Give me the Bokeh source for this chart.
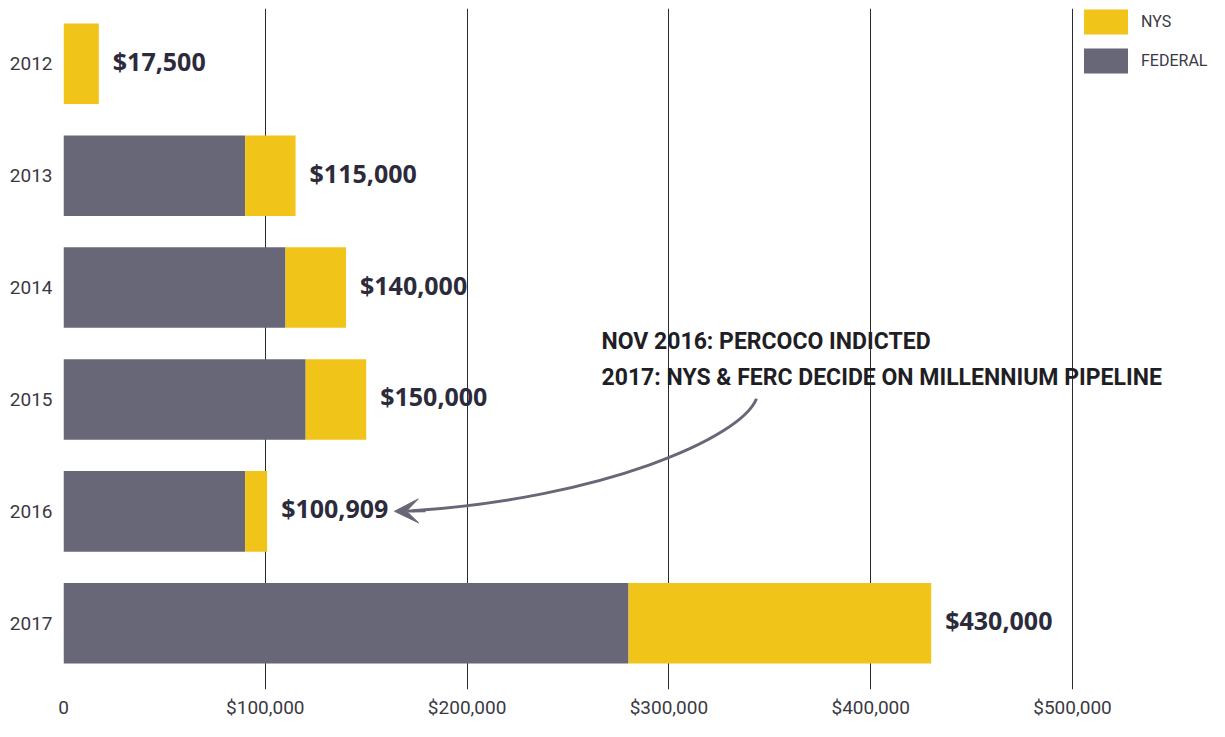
from bokeh.plotting import figure
from bokeh.models import (ColumnDataSource, Range1d, FixedTicker, Legend, LegendItem,
                          Label, Arrow, VeeHead)
from bokeh.core.properties import value
from bokeh.embed import file_html
from bokeh.resources import INLINE

# ---- data ----
years = ["2012", "2013", "2014", "2015", "2016", "2017"]
federal = [0, 90000, 110000, 120000, 90000, 280000]
nys = [17500, 25000, 30000, 30000, 10909, 150000]
x_ticks = [0, 100000, 200000, 300000, 400000, 500000]
x_tick_labels = ["0", "$100,000", "$200,000", "$300,000", "$400,000", "$500,000"]
note_lines = ["NOV 2016: PERCOCO INDICTED",
              "2017: NYS & FERC DECIDE ON MILLENNIUM PIPELINE"]

GRAY = "#686777"
YELLOW = "#F1C419"
TEXT = "#2b2b3b"

pos = list(range(len(years)))
totals = [f + n for f, n in zip(federal, nys)]
src = ColumnDataSource(dict(pos=pos, year=years, federal=federal, nys=nys,
                            total=totals,
                            label=["$" + format(t, ",") for t in totals]))

PX_PER_K = 2.018          # horizontal scale, px per $1,000
ROW = 112.4               # px per row
FRAME_L, FRAME_T, FRAME_B = 63, 8, 692
W, H = 1209, 721

x_end = (W - FRAME_L) / PX_PER_K * 1000
y_top = -(63.5 - FRAME_T) / ROW
y_bot = 5 + (FRAME_B - 625.5) / ROW

p = figure(width=W, height=H, output_backend="svg", toolbar_location=None,
           x_range=Range1d(0, x_end), y_range=Range1d(y_bot, y_top),
           min_border_left=FRAME_L, min_border_right=0, min_border_top=FRAME_T,
           min_border_bottom=H - FRAME_B)
p.outline_line_color = None
p.background_fill_color = "white"
p.border_fill_color = "white"

rs = p.hbar_stack(["federal", "nys"], y="pos", height=0.72, color=[GRAY, YELLOW],
                  line_color=None, source=src)

p.text(x="total", y="pos", text="label", source=src, x_offset=14, y_offset=-3,
       text_baseline="middle", text_align="left",
       text_font=value("Open Sans"), text_font_style="bold",
       text_font_size="25px", text_color=TEXT)

# axes
p.xaxis.ticker = FixedTicker(ticks=x_ticks)
p.xaxis.major_label_overrides = {t: l for t, l in zip(x_ticks, x_tick_labels)}
p.yaxis.ticker = FixedTicker(ticks=pos)
p.yaxis.major_label_overrides = {i: y for i, y in zip(pos, years)}
for ax in (p.xaxis, p.yaxis):
    ax.axis_line_color = None
    ax.major_tick_line_color = None
    ax.minor_tick_line_color = None
    ax.major_tick_out = 0
    ax.major_tick_in = 0
    ax.major_label_text_font = "Roboto"
    ax.major_label_text_font_size = "19px"
    ax.major_label_text_color = "#3a3a44"
p.xaxis.major_label_standoff = 6
p.yaxis.major_label_standoff = 11

p.xgrid.ticker = FixedTicker(ticks=x_ticks)
p.xgrid.grid_line_color = "#2a2a33"
p.xgrid.grid_line_width = 1
p.ygrid.grid_line_color = None

# legend (bar legend glyphs are drawn at 80% of the glyph box)
legend = Legend(items=[LegendItem(label="NYS", renderers=[rs[1]]),
                       LegendItem(label="FEDERAL", renderers=[rs[0]])],
                location=(1078 - FRAME_L, FRAME_B - 79), orientation="vertical",
                glyph_width=55, glyph_height=31, spacing=8, padding=0, margin=0,
                label_standoff=8, label_text_font="Roboto",
                label_text_font_size="16px", label_text_color="#3a3a44",
                border_line_color=None, background_fill_alpha=0)
p.add_layout(legend, "center")

# annotation text
def dx(sx):
    return (sx - FRAME_L) / PX_PER_K * 1000

def dy(sy):
    return (sy - 63.5) / ROW

for i, line in enumerate(note_lines):
    p.add_layout(Label(x=dx(601), y=dy(342 + 37 * i), text=line,
                       text_font="Roboto", text_font_style="bold",
                       text_font_size="23px", text_color="#1e1e24",
                       text_baseline="middle", text_align="left"))

# curved arrow pointing at the 2016 bar label
p.bezier(x0=[dx(756)], y0=[dy(400)], x1=[dx(412)], y1=[dy(512.5)],
         cx0=[dx(740)], cy0=[dy(440)], cx1=[dx(600)], cy1=[dy(500)],
         line_color=GRAY, line_width=3)
p.add_layout(Arrow(end=VeeHead(size=24, fill_color=GRAY, line_color=GRAY),
                   x_start=dx(425), y_start=dy(512.5), x_end=dx(394), y_end=dy(513),
                   line_color=GRAY, line_width=3))

open("out.html", "w").write(file_html(p, INLINE))
